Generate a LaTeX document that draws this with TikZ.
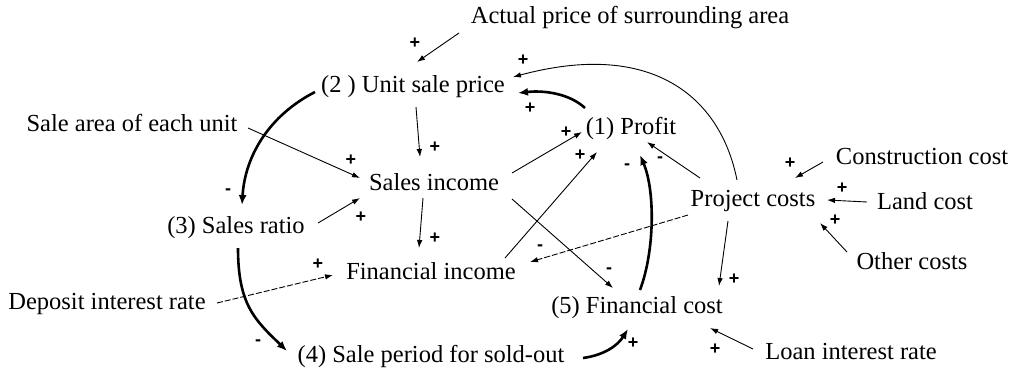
\documentclass[tikz,border=0pt]{standalone}
\usepackage{fontspec}
\setmainfont{Liberation Serif}
\newfontfamily\signfont{Liberation Sans}
\usetikzlibrary{arrows.meta}
\begin{document}
\begin{tikzpicture}[x=1pt,y=-1pt,
  var/.style={inner sep=0pt, font=\fontsize{24.5}{28}\selectfont},
  lnk/.style={line width=0.9pt, -{Latex[length=8pt,width=5.5pt]}},
  blnk/.style={line width=2.6pt, -{Latex[length=10pt,width=8pt]}},
  dlnk/.style={lnk, dash pattern=on 6pt off 2pt},
  sgn/.style={font=\signfont\bfseries\fontsize{18}{18}\selectfont, inner sep=0pt}]
\useasboundingbox (0,0) rectangle (1012,376);

\node[var] (actual) at (630,18) {Actual price of surrounding area};
\node[var] (usp) at (413,87) {(2 ) Unit sale price};
\node[var] (area) at (132,123) {Sale area of each unit};
\node[var] (si) at (434,182) {Sales income};
\node[var] (profit) at (631,128) {(1) Profit};
\node[var] (sr) at (236,228) {(3) Sales ratio};
\node[var] (fi) at (431,271) {Financial income};
\node[var] (pc) at (753,201) {Project costs};
\node[var] (cc) at (922,157) {Construction cost};
\node[var] (lc) at (925,201) {Land cost};
\node[var] (oc) at (912,261) {Other costs};
\node[var] (fc) at (637,308) {(5) Financial cost};
\node[var] (loan) at (851,351) {Loan interest rate};
\node[var] (dep) at (107,304) {Deposit interest rate};
\node[var] (sp) at (431,356) {(4) Sale period for sold-out};

% thin links
\draw[lnk] ([shift={(-171,15)}]actual.center) -- ([shift={(4,-25)}]usp.center) node[sgn,pos=1,shift={(-2,-19)}]{+};
\draw[lnk] ([shift={(-16,-21)}]pc.center) .. controls (720,95) and (650,40) .. ([shift={(100,-10)}]usp.center) node[sgn,pos=1,shift={(10,-17)}]{+};
\draw[lnk] ([shift={(3,20)}]usp.center) -- ([shift={(-14,-25)}]si.center) node[sgn,pos=1,shift={(15,-10)}]{+};
\draw[lnk] ([shift={(116,5)}]area.center) -- ([shift={(-74,-4)}]si.center) node[sgn,pos=1,shift={(-9,-18)}]{+};
\draw[lnk] ([shift={(82,-5)}]sr.center) -- ([shift={(-74,16)}]si.center) node[sgn,pos=1,shift={(1,19)}]{+};
\draw[lnk] ([shift={(78,-9)}]si.center) -- ([shift={(-49,4)}]profit.center) node[sgn,pos=1,shift={(-16,0)}]{+};
\draw[lnk] ([shift={(74,-13)}]fi.center) -- ([shift={(-34,24)}]profit.center) node[sgn,pos=1,shift={(-17,3)}]{+};
\draw[lnk] ([shift={(-11,16)}]si.center) -- ([shift={(-12,-23)}]fi.center) node[sgn,pos=1,shift={(16,-10)}]{+};
\draw[lnk] ([shift={(78,17)}]si.center) -- ([shift={(-24,-20)}]fc.center) node[sgn,pos=1,shift={(-4,-17)}]{-};
\draw[dlnk] ([shift={(-65,14)}]pc.center) -- ([shift={(99,-9)}]fi.center) node[sgn,pos=1,shift={(10,-14)}]{-};
\draw[lnk] ([shift={(-53,-23)}]pc.center) -- ([shift={(16,14)}]profit.center) node[sgn,pos=1,shift={(13,18)}]{-};
\draw[lnk] ([shift={(-25,20)}]pc.center) -- ([shift={(82,-22)}]fc.center) node[sgn,pos=1,shift={(15,-7)}]{+};
\draw[lnk] ([shift={(-98,-2)}]loan.center) -- ([shift={(73,20)}]fc.center) node[sgn,pos=1,shift={(5,21)}]{+};
\draw[lnk] ([shift={(-99,5)}]cc.center) -- ([shift={(42,-23)}]pc.center) node[sgn,pos=1,shift={(-5,-15)}]{+};
\draw[lnk] ([shift={(-58,1)}]lc.center) -- ([shift={(74,-1)}]pc.center) node[sgn,pos=1,shift={(15,-12)}]{+};
\draw[lnk] ([shift={(-65,-9)}]oc.center) -- ([shift={(67,22)}]pc.center) node[sgn,pos=1,shift={(15,-3)}]{+};
\draw[dlnk] ([shift={(110,-1)}]dep.center) -- ([shift={(-98,4)}]fi.center) node[sgn,pos=1,shift={(-15,-11)}]{+};

% thick links
\draw[blnk] ([shift={(-46,-20)}]profit.center) .. controls (570,94) and (545,90) .. ([shift={(105,6)}]usp.center) node[sgn,pos=1,shift={(12,15)}]{+};
\draw[blnk] ([shift={(3,-18)}]fc.center) .. controls (655,250) and (655,190) .. ([shift={(9,27)}]profit.center) node[sgn,pos=1,shift={(-13,12)}]{-};
\draw[blnk] ([shift={(-98,5)}]usp.center) .. controls (270,115) and (245,155) .. ([shift={(6,-23)}]sr.center) node[sgn,pos=1,shift={(-14,-13)}]{-};
\draw[blnk] ([shift={(2,20)}]sr.center) .. controls (238,305) and (255,320) .. ([shift={(-144,-5)}]sp.center) node[sgn,pos=1,shift={(-29,-8)}]{-};
\draw[blnk] ([shift={(152,2)}]sp.center) .. controls (605,355) and (618,345) .. ([shift={(-9,21)}]fc.center) node[sgn,pos=1,shift={(5,14)}]{+};
\end{tikzpicture}
\end{document}
